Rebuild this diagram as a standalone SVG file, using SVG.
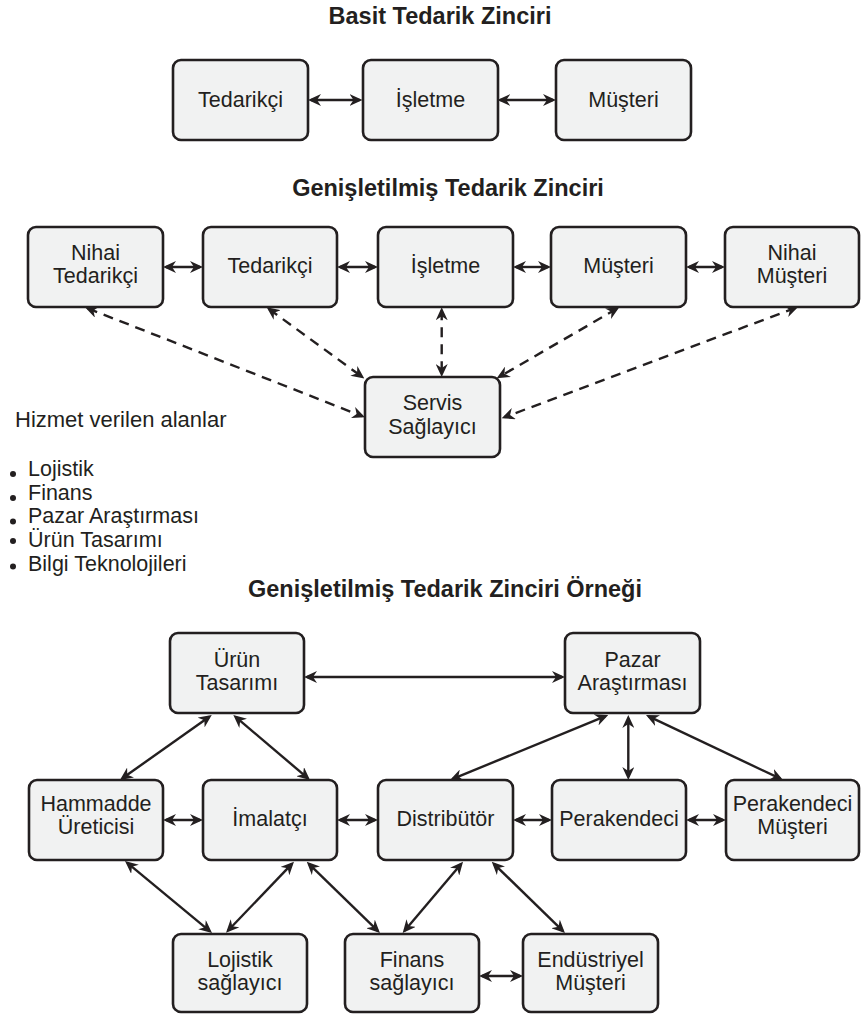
<svg xmlns="http://www.w3.org/2000/svg" width="861" height="1014" viewBox="0 0 861 1014">
<defs>
<style>
.box{fill:#f1f2f2;stroke:#231f20;stroke-width:2.6}
.t{font-family:"Liberation Sans",Arial,sans-serif;font-size:21.5px;fill:#231f20;text-anchor:middle}
.ttl{font-family:"Liberation Sans",Arial,sans-serif;font-size:23.5px;font-weight:bold;fill:#231f20;text-anchor:middle}
.lst{font-family:"Liberation Sans",Arial,sans-serif;font-size:21.5px;fill:#231f20}
.c{stroke:#231f20;stroke-width:2.4;fill:none;marker-start:url(#ah);marker-end:url(#ah)}
.d{stroke-dasharray:10 7}
</style>
<marker id="ah" viewBox="0 0 13 12" refX="10" refY="6" markerWidth="13" markerHeight="12" markerUnits="userSpaceOnUse" orient="auto-start-reverse">
<path d="M0,0 L13,6 L0,12 L4,6 Z" fill="#231f20"/>
</marker>
</defs>
<rect width="861" height="1014" fill="#ffffff"/>

<text class="ttl" x="440" y="24">Basit Tedarik Zinciri</text>
<text class="ttl" x="448" y="196">Genişletilmiş Tedarik Zinciri</text>
<text class="ttl" x="445" y="597">Genişletilmiş Tedarik Zinciri Örneği</text>

<g id="connectors">
<line class="c" x1="311" y1="100" x2="359.5" y2="100"/>
<line class="c" x1="500.3" y1="100" x2="553" y2="100"/>
<line class="c" x1="166" y1="267" x2="200" y2="267"/>
<line class="c" x1="340" y1="267" x2="375" y2="267"/>
<line class="c" x1="516" y1="267" x2="548" y2="267"/>
<line class="c" x1="689" y1="267" x2="722" y2="267"/>
<line class="c d" x1="87.8" y1="308.4" x2="362.2" y2="416.2"/>
<line class="c d" x1="269.1" y1="309.1" x2="361.9" y2="376.7"/>
<line class="c d" x1="441.7" y1="310.3" x2="441.7" y2="374"/>
<line class="c d" x1="616.7" y1="308.8" x2="499.3" y2="376.8"/>
<line class="c d" x1="795.5" y1="307.8" x2="504.5" y2="417.2"/>
<line class="c" x1="307" y1="677" x2="562" y2="677"/>
<line class="c" x1="209.3" y1="716.7" x2="122.4" y2="778.3"/>
<line class="c" x1="235.6" y1="716.9" x2="307.7" y2="778.1"/>
<line class="c" x1="605.5" y1="716.1" x2="452.8" y2="778.9"/>
<line class="c" x1="628.3" y1="718" x2="628.3" y2="777"/>
<line class="c" x1="648.7" y1="716.3" x2="780.3" y2="778.7"/>
<line class="c" x1="166" y1="820" x2="200" y2="820"/>
<line class="c" x1="340" y1="820" x2="375" y2="820"/>
<line class="c" x1="516" y1="820" x2="549" y2="820"/>
<line class="c" x1="689" y1="820" x2="723" y2="820"/>
<line class="c" x1="127.3" y1="862.9" x2="209.7" y2="931.1"/>
<line class="c" x1="291.9" y1="863.9" x2="228.1" y2="930.5"/>
<line class="c" x1="308.9" y1="863.8" x2="377.8" y2="930.9"/>
<line class="c" x1="461.1" y1="864" x2="404.6" y2="930.7"/>
<line class="c" x1="493.9" y1="863.8" x2="562.8" y2="930.9"/>
<line class="c" x1="482" y1="976" x2="520" y2="976"/>
</g>

<g id="b-tedarikci"><rect class="box" x="173" y="60" width="135" height="80" rx="8"/><text class="t" x="240.5" y="107">Tedarikçi</text></g>
<g id="b-isletme"><rect class="box" x="363" y="60" width="135" height="80" rx="8"/><text class="t" x="430.5" y="107">İşletme</text></g>
<g id="b-musteri"><rect class="box" x="556" y="60" width="135" height="80" rx="8"/><text class="t" x="623.5" y="107">Müşteri</text></g>

<g id="e-nihai-tedarikci"><rect class="box" x="28" y="227" width="135" height="80" rx="8"/><text class="t" x="95.5" y="260">Nihai</text><text class="t" x="95.5" y="283">Tedarikçi</text></g>
<g id="e-tedarikci"><rect class="box" x="203" y="227" width="134" height="80" rx="8"/><text class="t" x="270" y="273">Tedarikçi</text></g>
<g id="e-isletme"><rect class="box" x="378" y="227" width="135" height="80" rx="8"/><text class="t" x="445.5" y="273">İşletme</text></g>
<g id="e-musteri"><rect class="box" x="551" y="227" width="135" height="80" rx="8"/><text class="t" x="618.5" y="273">Müşteri</text></g>
<g id="e-nihai-musteri"><rect class="box" x="725" y="227" width="134" height="80" rx="8"/><text class="t" x="792" y="260">Nihai</text><text class="t" x="792" y="283">Müşteri</text></g>
<g id="e-servis"><rect class="box" x="365" y="377" width="135" height="80" rx="8"/><text class="t" x="432.5" y="410">Servis</text><text class="t" x="432.5" y="434">Sağlayıcı</text></g>

<g id="list">
<text class="lst" x="15" y="427" style="font-size:22px">Hizmet verilen alanlar</text>
<circle cx="13" cy="474" r="3" fill="#231f20"/><text class="lst" x="28" y="476">Lojistik</text>
<circle cx="13" cy="498" r="3" fill="#231f20"/><text class="lst" x="28" y="499.5">Finans</text>
<circle cx="13" cy="521.5" r="3" fill="#231f20"/><text class="lst" x="28" y="523">Pazar Araştırması</text>
<circle cx="13" cy="541" r="3" fill="#231f20"/><text class="lst" x="28" y="547">Ürün Tasarımı</text>
<circle cx="13" cy="566.5" r="3" fill="#231f20"/><text class="lst" x="28" y="571">Bilgi Teknolojileri</text>
</g>

<g id="x-urun"><rect class="box" x="170" y="633" width="134" height="80" rx="8"/><text class="t" x="237" y="667">Ürün</text><text class="t" x="237" y="690">Tasarımı</text></g>
<g id="x-pazar"><rect class="box" x="565" y="633" width="135" height="80" rx="8"/><text class="t" x="632.5" y="667">Pazar</text><text class="t" x="632.5" y="690">Araştırması</text></g>
<g id="x-hammadde"><rect class="box" x="29" y="780" width="134" height="80" rx="8"/><text class="t" x="96" y="811">Hammadde</text><text class="t" x="96" y="834">Üreticisi</text></g>
<g id="x-imalatci"><rect class="box" x="203" y="780" width="134" height="80" rx="8"/><text class="t" x="270" y="826">İmalatçı</text></g>
<g id="x-distributor"><rect class="box" x="378" y="780" width="135" height="80" rx="8"/><text class="t" x="445.5" y="826">Distribütör</text></g>
<g id="x-perakendeci"><rect class="box" x="552" y="780" width="134" height="80" rx="8"/><text class="t" x="619" y="826">Perakendeci</text></g>
<g id="x-perakendeci-musteri"><rect class="box" x="726" y="780" width="133" height="80" rx="8"/><text class="t" x="792.5" y="811">Perakendeci</text><text class="t" x="792.5" y="834">Müşteri</text></g>
<g id="x-lojistik"><rect class="box" x="173" y="934" width="134" height="78" rx="8"/><text class="t" x="240" y="967">Lojistik</text><text class="t" x="240" y="990">sağlayıcı</text></g>
<g id="x-finans"><rect class="box" x="345" y="934" width="134" height="78" rx="8"/><text class="t" x="412" y="967">Finans</text><text class="t" x="412" y="990">sağlayıcı</text></g>
<g id="x-endustriyel"><rect class="box" x="523" y="934" width="135" height="78" rx="8"/><text class="t" x="590.5" y="967">Endüstriyel</text><text class="t" x="590.5" y="990">Müşteri</text></g>
</svg>
